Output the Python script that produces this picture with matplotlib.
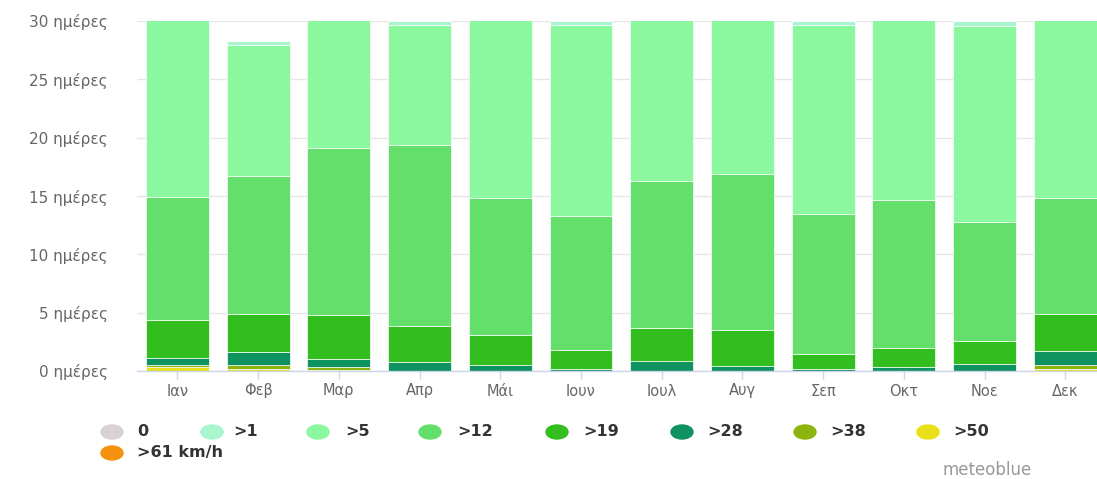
import numpy as np
import matplotlib.pyplot as plt
from matplotlib.patches import Ellipse

# months and days per wind-speed class (segments, stacked from the bottom)
months = ["Ιαν", "Φεβ", "Μαρ", "Απρ", "Μάι", "Ιουν",
          "Ιουλ", "Αυγ", "Σεπ", "Οκτ", "Νοε", "Δεκ"]

days_61 = [0, 0, 0, 0, 0, 0, 0, 0, 0, 0, 0, 0]
days_50 = [0.35, 0.15, 0.1, 0, 0, 0, 0, 0, 0, 0, 0, 0.2]
days_38 = [0.2, 0.35, 0.27, 0, 0, 0, 0, 0, 0, 0, 0, 0.29]
days_28 = [0.6, 1.1, 0.7, 0.77, 0.55, 0.17, 0.88, 0.46, 0.17, 0.35, 0.57, 1.2]
days_19 = [3.2, 3.3, 3.73, 3.13, 2.5, 1.63, 2.8, 3.04, 1.3, 1.65, 2.03, 3.2]
days_12 = [10.55, 11.8, 14.3, 15.5, 11.75, 11.5, 12.6, 13.4, 12.0, 12.7, 10.2, 9.9]
days_5 = [16.1, 11.25, 11.9, 10.26, 16.2, 16.36, 14.7, 14.1, 16.16, 16.3, 16.8, 16.2]
days_1 = [0, 0.3, 0, 0.34, 0, 0.34, 0, 0, 0.34, 0, 0.4, 0]
days_0 = [0, 0, 0, 0, 0, 0, 0, 0, 0, 0, 0, 0]

series = [days_61, days_50, days_38, days_28, days_19, days_12, days_5, days_1, days_0]
colors = ["#f4920e", "#e8e11a", "#8cb40e", "#0e925f", "#32be1f",
          "#65df6b", "#8bf79e", "#a8f5d0", "#d9d2d2"]

legend_labels = ["0", ">1", ">5", ">12", ">19", ">28", ">38", ">50", ">61 km/h"]
legend_colors = ["#d9d2d2", "#a8f5d0", "#8bf79e", "#65df6b", "#32be1f",
                 "#0e925f", "#8cb40e", "#e8e11a", "#f4920e"]

W, H = 1097, 479
fig = plt.figure(figsize=(W / 100, H / 100), dpi=100)
ax = fig.add_axes([137 / W, (H - 371) / H, 968.7 / W, 350 / H])

x = np.arange(len(months))
bottom = np.zeros(len(months))
for vals, col in zip(series, colors):
    vals = np.array(vals, dtype=float)
    ax.bar(x, vals, bottom=bottom, width=0.78, color=col,
           edgecolor=(1, 1, 1, 0.7), linewidth=0.7, zorder=2)
    bottom += vals

ax.set_xlim(-0.5, len(months) - 0.5)
ax.set_ylim(0, 30)
ax.set_yticks(range(0, 31, 5))
ax.set_yticklabels([f"{v} ημέρες" for v in range(0, 31, 5)])
ax.set_xticks(x)
ax.set_xticklabels(months)

ax.grid(axis="y", color="#e6e6e6", linewidth=1, zorder=0)
ax.set_axisbelow(True)
for s in ["top", "right", "left"]:
    ax.spines[s].set_visible(False)
ax.spines["bottom"].set_color("#ccd6eb")
ax.spines["bottom"].set_linewidth(1)
ax.spines["bottom"].set_zorder(3)

ax.tick_params(axis="y", length=0, pad=21, labelsize=11, labelcolor="#666666")
ax.tick_params(axis="x", length=6, width=1, color="#ccd6eb", pad=3,
               labelsize=10.5, labelcolor="#666666")

# legend drawn by hand, two rows
row1 = 432
row2 = 453
marker_x = [112, 212, 318, 430, 557, 682, 805, 928, 112]
text_x = [137, 233, 345, 457, 583, 707, 830, 953, 137]
rows = [row1] * 8 + [row2]
for lab, col, mx, tx, ry in zip(legend_labels, legend_colors, marker_x, text_x, rows):
    fig.add_artist(Ellipse((mx / W, 1 - ry / H), 22 / W, 14 / H,
                           transform=fig.transFigure, color=col))
    fig.text(tx / W, 1 - ry / H, lab, fontsize=11.5, fontweight="bold",
             color="#333333", va="center", ha="left")

fig.text(987 / W, 1 - 470 / H, "meteoblue", fontsize=12, color="#999999",
         ha="center", va="center")

fig.savefig("out.png", dpi=100)
